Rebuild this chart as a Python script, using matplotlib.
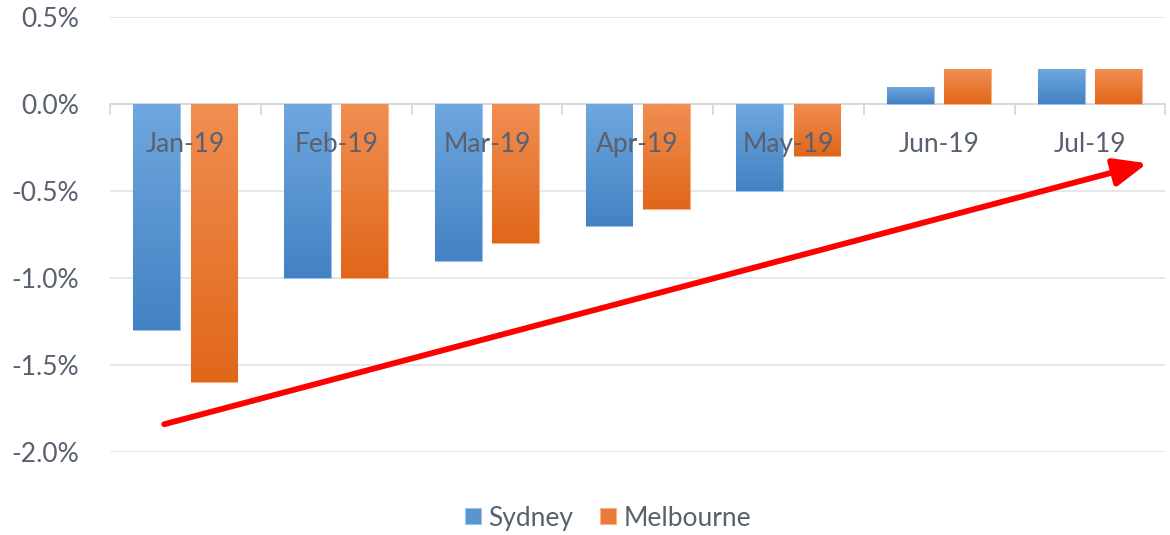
import numpy as np
import matplotlib
matplotlib.use("Agg")
import matplotlib.pyplot as plt
from matplotlib.colors import LinearSegmentedColormap
from matplotlib.ticker import FuncFormatter, FixedLocator

months = ["Jan-19", "Feb-19", "Mar-19", "Apr-19", "May-19", "Jun-19", "Jul-19"]
sydney = [-1.3, -1.0, -0.9, -0.7, -0.5, 0.1, 0.2]
melbourne = [-1.6, -1.0, -0.8, -0.6, -0.3, 0.2, 0.2]
y_ticks = [0.5, 0.0, -0.5, -1.0, -1.5, -2.0]
trend_start = (-0.14, -1.84)
trend_end = (6.38, -0.34)

txt = "#596170"
plt.rcParams["font.family"] = ["Lato", "DejaVu Sans"]

fig = plt.figure(figsize=(11.7, 5.35), dpi=100)
ax = fig.add_axes([0.094, 0.155, 0.902, 0.813])

x = np.arange(len(months))
w = 0.31
off = 0.19

blue_cmap = LinearSegmentedColormap.from_list("b", ["#4382c4", "#6fa7de"])
orange_cmap = LinearSegmentedColormap.from_list("o", ["#e0671a", "#f18e52"])
grad = np.linspace(0, 1, 100).reshape(-1, 1)

def gradient_bars(xs, vals, cmap, edge, label):
    bars = ax.bar(xs, vals, width=w, color=cmap(0.5), edgecolor=edge,
                  linewidth=0.8, zorder=2, label=label)
    for b in bars:
        x0, y0 = b.get_x(), b.get_y()
        x1, y1 = x0 + b.get_width(), y0 + b.get_height()
        lo, hi = min(y0, y1), max(y0, y1)
        im = ax.imshow(grad, extent=[x0, x1, lo, hi], origin="lower",
                       aspect="auto", cmap=cmap, zorder=2.1)
        im.set_clip_path(b)
    return bars

gradient_bars(x - off, sydney, blue_cmap, "#9cc2ea", "Sydney")
gradient_bars(x + off, melbourne, orange_cmap, "#f5b488", "Melbourne")

ax.set_xlim(-0.5, len(months) - 0.5)
ax.set_ylim(-2.0, 0.5)

# horizontal gridlines
ax.set_yticks(y_ticks)
ax.yaxis.set_major_formatter(FuncFormatter(lambda v, p: f"{v:.1f}%"))
ax.grid(axis="y", color="#e1e3e7", linewidth=1.2, zorder=0)
ax.set_axisbelow(True)

# category axis sits on the zero line, labels drawn over the bars
for s in ["top", "right", "left"]:
    ax.spines[s].set_visible(False)
ax.spines["bottom"].set_position(("data", 0))
ax.spines["bottom"].set_color("#d5d9df")
ax.spines["bottom"].set_linewidth(1.3)
ax.spines["bottom"].set_zorder(1)
ax.xaxis.set_zorder(4)
ax.xaxis.grid(False)

ax.set_xticks(x)
ax.set_xticklabels(months)
ax.xaxis.set_minor_locator(FixedLocator(np.arange(-0.5, len(months), 1.0)))
ax.tick_params(axis="x", which="major", length=0, pad=20, labelsize=19, labelcolor=txt)
ax.tick_params(axis="x", which="minor", length=8, width=1.3, color="#d5d9df")
ax.tick_params(axis="y", length=0, pad=22, labelsize=19, labelcolor=txt)

ax.annotate("", xy=trend_end, xytext=trend_start,
            arrowprops=dict(arrowstyle="-|>,head_length=1.0,head_width=0.42",
                            color="#ff0000", lw=4.2, mutation_scale=20,
                            shrinkA=0, shrinkB=0),
            zorder=5)

leg = ax.legend(loc="lower center", bbox_to_anchor=(0.472, -0.235), ncol=2,
                frameon=False, fontsize=19, handlelength=0.6, handleheight=0.55,
                handletextpad=0.3, columnspacing=1.0)
for t in leg.get_texts():
    t.set_color(txt)

fig.savefig("out.png", dpi=100)
